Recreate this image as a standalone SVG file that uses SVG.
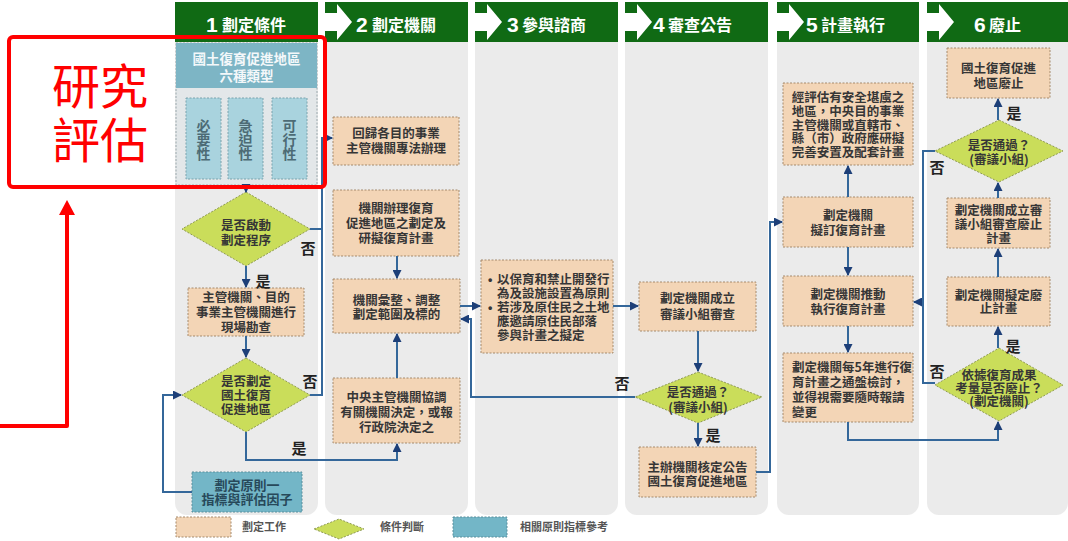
<svg xmlns="http://www.w3.org/2000/svg" width="1068" height="541" viewBox="0 0 1068 541">
<style>
.lane{fill:#ebebeb}
.hdr{fill:#106a14}
.harrow{fill:#ffffff}
.hnum{font-family:"Liberation Sans","Noto Sans CJK TC",sans-serif;font-weight:bold;font-size:21px;fill:#ffffff}
.htxt{font-family:"Noto Sans CJK TC",sans-serif;font-weight:bold;font-size:16px;fill:#ffffff}
.box{fill:#f3d5b6;stroke:#a58a6c;stroke-width:1;stroke-dasharray:2 1.5}
.dia{fill:#cadd5a;stroke:#8f9a55;stroke-width:1;stroke-dasharray:2 1.5}
.ref{fill:#73b6c7;stroke:#5b8f9c;stroke-width:1;stroke-dasharray:2 1.5}
.t{font-family:"Noto Sans CJK TC",sans-serif;font-weight:bold;font-size:12.5px;fill:#363636;text-anchor:middle}
.tl{font-family:"Noto Sans CJK TC",sans-serif;font-weight:bold;font-size:12.5px;fill:#363636}
.bul{font-family:"Liberation Sans",sans-serif;font-weight:bold;font-size:12.5px;fill:#363636}
.lbl{font-family:"Noto Sans CJK TC",sans-serif;font-weight:bold;font-size:15px;fill:#222;text-anchor:middle}
.leg{font-family:"Noto Sans CJK TC",sans-serif;font-weight:bold;font-size:11px;fill:#555}
.con{fill:none;stroke:#34679a;stroke-width:2}
.vt{font-family:"Noto Sans CJK TC",sans-serif;font-weight:bold;font-size:14px;fill:#4d6b75;text-anchor:middle}
</style>
<defs>
<marker id="ah" markerUnits="userSpaceOnUse" markerWidth="9" markerHeight="9" refX="8" refY="4.5" orient="auto">
<path d="M0,0 L9,4.5 L0,9 z" fill="#1d3f78"/>
</marker>
</defs>

<g id="lanes">
<rect class="lane" x="175" y="30" width="143" height="485" rx="12"/>
<rect class="lane" x="325" y="30" width="143" height="485" rx="12"/>
<rect class="lane" x="475" y="30" width="143" height="485" rx="12"/>
<rect class="lane" x="625" y="30" width="143" height="485" rx="12"/>
<rect class="lane" x="777" y="30" width="142" height="485" rx="12"/>
<rect class="lane" x="927" y="30" width="141" height="485" rx="12"/>
</g>

<g id="headers">
<rect class="hdr" x="175" y="2" width="143" height="40"/>
<rect class="hdr" x="325" y="2" width="143" height="40"/>
<rect class="hdr" x="475" y="2" width="143" height="40"/>
<rect class="hdr" x="625" y="2" width="143" height="40"/>
<rect class="hdr" x="777" y="2" width="142" height="40"/>
<rect class="hdr" x="927" y="2" width="141" height="40"/>
<polygon class="harrow" points="325,13 337,13 337,4 352,22 337,40 337,31 325,31"/>
<polygon class="harrow" points="475,13 487,13 487,4 502,22 487,40 487,31 475,31"/>
<polygon class="harrow" points="625,13 637,13 637,4 652,22 637,40 637,31 625,31"/>
<polygon class="harrow" points="777,13 789,13 789,4 804,22 789,40 789,31 777,31"/>
<polygon class="harrow" points="927,13 939,13 939,4 954,22 939,40 939,31 927,31"/>
<text class="hnum" x="206" y="32">1</text><text class="htxt" x="222" y="31">劃定條件</text>
<text class="hnum" x="356" y="32">2</text><text class="htxt" x="372" y="31">劃定機關</text>
<text class="hnum" x="507" y="32">3</text><text class="htxt" x="522" y="31">參與諮商</text>
<text class="hnum" x="653" y="32">4</text><text class="htxt" x="668" y="31">審查公告</text>
<text class="hnum" x="806" y="32">5</text><text class="htxt" x="821" y="31">計畫執行</text>
<text class="hnum" x="974" y="32">6</text><text class="htxt" x="989" y="31">廢止</text>
</g>

<g id="n-types">
<rect x="176" y="43" width="141" height="142" fill="#e3e7e9" stroke="#9aa8ad" stroke-width="1" stroke-dasharray="2 1.5"/>
<rect x="176" y="43" width="141" height="45" fill="#7db5c5"/>
<text x="246.5" y="64" font-family="Noto Sans CJK TC, sans-serif" font-weight="bold" font-size="13.5" fill="#f4f8fa" text-anchor="middle">國土復育促進地區</text>
<text x="246.5" y="81" font-family="Noto Sans CJK TC, sans-serif" font-weight="bold" font-size="13.5" fill="#f4f8fa" text-anchor="middle">六種類型</text>
<rect x="186" y="98" width="35" height="81" fill="#a9d3de" stroke="#7aa3ad" stroke-dasharray="2 1.5"/>
<rect x="228" y="98" width="35" height="81" fill="#a9d3de" stroke="#7aa3ad" stroke-dasharray="2 1.5"/>
<rect x="272" y="98" width="35" height="81" fill="#a9d3de" stroke="#7aa3ad" stroke-dasharray="2 1.5"/>
<text class="vt" x="203.5"><tspan x="203.5" y="131">必</tspan><tspan x="203.5" y="145">要</tspan><tspan x="203.5" y="159">性</tspan></text>
<text class="vt" x="245.5"><tspan x="245.5" y="131">急</tspan><tspan x="245.5" y="145">迫</tspan><tspan x="245.5" y="159">性</tspan></text>
<text class="vt" x="289.5"><tspan x="289.5" y="131">可</tspan><tspan x="289.5" y="145">行</tspan><tspan x="289.5" y="159">性</tspan></text>
</g>

<g id="n-start">
<polygon class="dia" points="246,192 310,229 246,266 182,229"/>
<text class="t"><tspan x="246" y="229.5">是否啟動</tspan><tspan x="246" y="244.5">劃定程序</tspan></text>
</g>

<g id="n-survey">
<rect class="box" x="188" y="288" width="116" height="48"/>
<text class="t"><tspan x="246" y="302">主管機關、目的</tspan><tspan x="246" y="317">事業主管機關進行</tspan><tspan x="246" y="332">現場勘查</tspan></text>
</g>

<g id="n-designate">
<polygon class="dia" points="246,358 310,395 246,432 182,395"/>
<text class="t"><tspan x="246" y="386">是否劃定</tspan><tspan x="246" y="400">國土復育</tspan><tspan x="246" y="414">促進地區</tspan></text>
</g>

<g id="n-principle">
<rect class="ref" x="192" y="472" width="110" height="40"/>
<text x="247" y="490" font-family="Noto Sans CJK TC, sans-serif" font-weight="bold" font-size="13" fill="#27495a" text-anchor="middle">劃定原則一</text>
<text x="247" y="504" font-family="Noto Sans CJK TC, sans-serif" font-weight="bold" font-size="13" fill="#27495a" text-anchor="middle">指標與評估因子</text>
</g>

<g id="n-return">
<rect class="box" x="333" y="117" width="126" height="48"/>
<text class="t"><tspan x="396" y="137.5">回歸各目的事業</tspan><tspan x="396" y="152.5">主管機關專法辦理</tspan></text>
</g>

<g id="n-handle">
<rect class="box" x="333" y="190" width="126" height="66"/>
<text class="t"><tspan x="396" y="212.5">機關辦理復育</tspan><tspan x="396" y="227.5">促進地區之劃定及</tspan><tspan x="396" y="242.5">研擬復育計畫</tspan></text>
</g>

<g id="n-adjust">
<rect class="box" x="333" y="279" width="127" height="54"/>
<text class="t"><tspan x="396.5" y="304.5">機關彙整、調整</tspan><tspan x="396.5" y="319">劃定範圍及標的</tspan></text>
</g>

<g id="n-central">
<rect class="box" x="333" y="378" width="127" height="65"/>
<text class="t"><tspan x="396.5" y="401.5">中央主管機關協調</tspan><tspan x="396.5" y="416.5">有關機關決定，或報</tspan><tspan x="396.5" y="431.5">行政院決定之</tspan></text>
</g>

<g id="n-consult">
<rect class="box" x="481" y="260" width="132" height="93"/>
<text class="bul" x="488" y="284">•</text>
<text class="bul" x="488" y="312">•</text>
<text class="tl"><tspan x="497" y="284">以保育和禁止開發行</tspan><tspan x="497" y="298">為及設施設置為原則</tspan><tspan x="497" y="312">若涉及原住民之土地</tspan><tspan x="497" y="326">應邀請原住民部落</tspan><tspan x="497" y="340">參與計畫之擬定</tspan></text>
</g>

<g id="n-review">
<rect class="box" x="639" y="282" width="117" height="49"/>
<text class="t"><tspan x="697.5" y="302.5">劃定機關成立</tspan><tspan x="697.5" y="318.5">審議小組審查</tspan></text>
</g>

<g id="n-pass4">
<polygon class="dia" points="698,372 762,397 698,423 635,397"/>
<text class="t"><tspan x="698" y="396.5">是否通過？</tspan><tspan x="698" y="411.5">(審議小組)</tspan></text>
</g>

<g id="n-announce">
<rect class="box" x="639" y="447" width="117" height="50"/>
<text class="t"><tspan x="697.5" y="471.5">主辦機關核定公告</tspan><tspan x="697.5" y="485.5">國土復育促進地區</tspan></text>
</g>

<g id="n-safety">
<rect class="box" x="783" y="83" width="130" height="82"/>
<text class="t"><tspan x="848" y="102">經評估有安全堪虞之</tspan><tspan x="848" y="115.75">地區，中央目的事業</tspan><tspan x="848" y="129.5">主管機關或直轄市、</tspan><tspan x="848" y="143.25">縣（市）政府應研擬</tspan><tspan x="848" y="157">完善安置及配套計畫</tspan></text>
</g>

<g id="n-draft">
<rect class="box" x="783" y="197" width="130" height="50"/>
<text class="t"><tspan x="848" y="219.5">劃定機關</tspan><tspan x="848" y="234.5">擬訂復育計畫</tspan></text>
</g>

<g id="n-execute">
<rect class="box" x="783" y="276" width="130" height="50"/>
<text class="t"><tspan x="848" y="298.5">劃定機關推動</tspan><tspan x="848" y="313.5">執行復育計畫</tspan></text>
</g>

<g id="n-check">
<rect class="box" x="783" y="353" width="130" height="69"/>
<text class="tl"><tspan x="792" y="371.5">劃定機關每5年進行復</tspan><tspan x="792" y="386.5">育計畫之通盤檢討，</tspan><tspan x="792" y="401.5">並得視需要隨時報請</tspan><tspan x="792" y="416.5">變更</tspan></text>
</g>

<g id="n-abolished">
<rect class="box" x="947" y="48" width="103" height="50"/>
<text class="t"><tspan x="998.5" y="73">國土復育促進</tspan><tspan x="998.5" y="87.5">地區廢止</tspan></text>
</g>

<g id="n-pass6">
<polygon class="dia" points="999,120 1063,151 999,182 935,151"/>
<text class="t"><tspan x="999" y="149.5">是否通過？</tspan><tspan x="999" y="163.5">(審議小組)</tspan></text>
</g>

<g id="n-review6">
<rect class="box" x="947" y="198" width="103" height="50"/>
<text class="t"><tspan x="998.5" y="214.5">劃定機關成立審</tspan><tspan x="998.5" y="228.5">議小組審查廢止</tspan><tspan x="998.5" y="242.5">計畫</tspan></text>
</g>

<g id="n-plan6">
<rect class="box" x="947" y="277" width="103" height="49"/>
<text class="t"><tspan x="998.5" y="300">劃定機關擬定廢</tspan><tspan x="998.5" y="313">止計畫</tspan></text>
</g>

<g id="n-consider">
<polygon class="dia" points="999,348 1063,385 999,421 935,385"/>
<text class="t"><tspan x="999" y="379.5">依據復育成果</tspan><tspan x="999" y="392.5">考量是否廢止？</tspan><tspan x="999" y="405.5">(劃定機關)</tspan></text>
</g>

<g id="connectors">
<path class="con" d="M246,185 V192" marker-end="url(#ah)"/>
<path class="con" d="M310,229 H322"/>
<path class="con" d="M310,395 H322 V138 H332" marker-end="url(#ah)"/>
<path class="con" d="M246,266 V287" marker-end="url(#ah)"/>
<path class="con" d="M246,336 V357" marker-end="url(#ah)"/>
<path class="con" d="M246,432 V460 H397 V444" marker-end="url(#ah)"/>
<path class="con" d="M192,492 H163 V395 H181" marker-end="url(#ah)"/>
<path class="con" d="M397,256 V278" marker-end="url(#ah)"/>
<path class="con" d="M397,378 V334" marker-end="url(#ah)"/>
<path class="con" d="M460,306 H480" marker-end="url(#ah)"/>
<path class="con" d="M613,306 H638" marker-end="url(#ah)"/>
<path class="con" d="M698,331 V371" marker-end="url(#ah)"/>
<path class="con" d="M635,397 H471 V319 H461" marker-end="url(#ah)"/>
<path class="con" d="M698,423 V446" marker-end="url(#ah)"/>
<path class="con" d="M756,472 H770 V222 H782" marker-end="url(#ah)"/>
<path class="con" d="M848,197 V166" marker-end="url(#ah)"/>
<path class="con" d="M848,247 V275" marker-end="url(#ah)"/>
<path class="con" d="M848,326 V352" marker-end="url(#ah)"/>
<path class="con" d="M848,422 V440 H998 V422" marker-end="url(#ah)"/>
<path class="con" d="M998,348 V327" marker-end="url(#ah)"/>
<path class="con" d="M998,277 V249" marker-end="url(#ah)"/>
<path class="con" d="M998,198 V183" marker-end="url(#ah)"/>
<path class="con" d="M998,120 V99" marker-end="url(#ah)"/>
<path class="con" d="M935,383 H923 V151 H935"/>
<path class="con" d="M923,302 H914" marker-end="url(#ah)"/>
</g>

<g id="labels">
<text class="lbl" x="308" y="254">否</text>
<text class="lbl" x="263" y="287">是</text>
<text class="lbl" x="310" y="387">否</text>
<text class="lbl" x="299" y="454">是</text>
<text class="lbl" x="622" y="389">否</text>
<text class="lbl" x="713" y="441">是</text>
<text class="lbl" x="1014" y="119">是</text>
<text class="lbl" x="937" y="173">否</text>
<text class="lbl" x="1013" y="352">是</text>
<text class="lbl" x="937" y="377">否</text>
</g>

<g id="legend">
<rect class="box" x="176" y="517" width="55" height="20"/>
<text class="leg" x="242" y="531">劃定工作</text>
<polygon class="dia" points="314,529 339,519 364,529 339,539"/>
<text class="leg" x="380" y="531">條件判斷</text>
<rect class="ref" x="453" y="517" width="54" height="20"/>
<text class="leg" x="520" y="531">相關原則指標參考</text>
</g>

<g id="annotation">
<rect x="9" y="37" width="316" height="150" rx="4" fill="none" stroke="#ff0000" stroke-width="4"/>
<text x="100" y="104" font-family="Noto Sans CJK TC, sans-serif" font-size="48" fill="#ff0000" text-anchor="middle">研究</text>
<text x="100" y="158" font-family="Noto Sans CJK TC, sans-serif" font-size="48" fill="#ff0000" text-anchor="middle">評估</text>
<path d="M0,426 H67 V212" fill="none" stroke="#ff0000" stroke-width="4" stroke-linejoin="round"/>
<polygon points="59,215 67,200 75,215" fill="#ff0000"/>
</g>
</svg>
